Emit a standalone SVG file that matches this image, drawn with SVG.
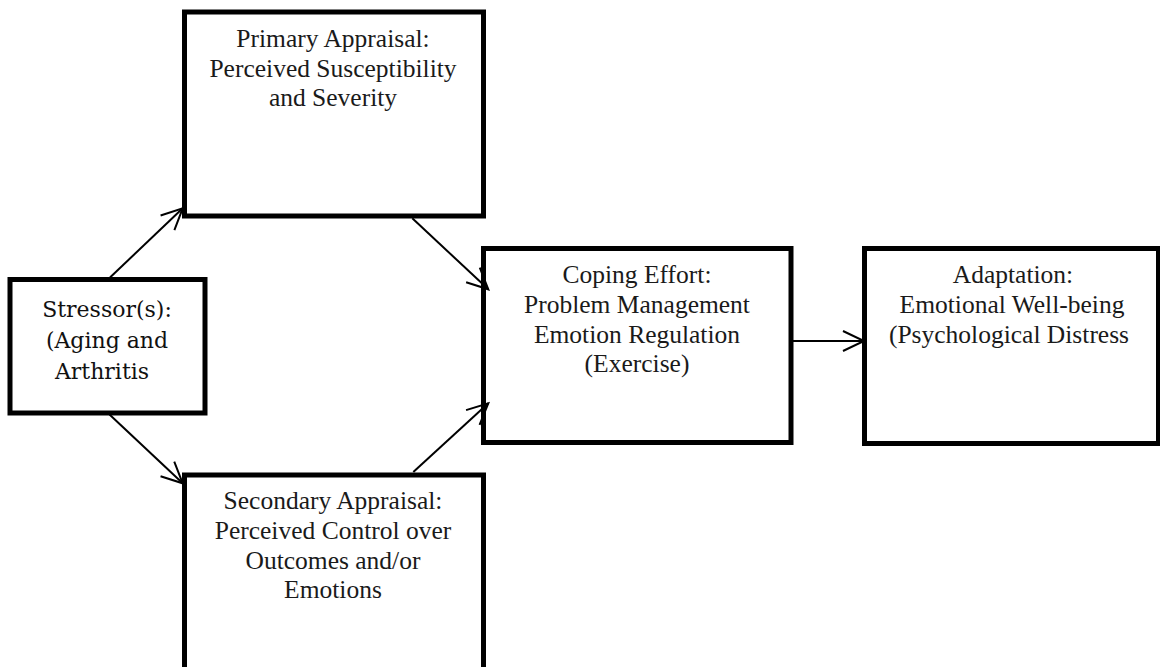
<svg xmlns="http://www.w3.org/2000/svg" width="1160" height="667" viewBox="0 0 1160 667">
  <style>
    .box { fill: #ffffff; stroke: #000000; stroke-width: 5; }
    .t { font-family: "Liberation Serif", "Times New Roman", serif; font-size: 25.5px; fill: #1a1a1a; text-anchor: middle; }
    .s { font-family: "DejaVu Serif", "Liberation Serif", serif; font-size: 22px; fill: #111111; text-anchor: middle; }
    .c { stroke: #000000; stroke-width: 2; fill: none; }
  </style>
  <defs>
    <marker id="arr" markerUnits="userSpaceOnUse" markerWidth="24" markerHeight="22" refX="22" refY="11" orient="auto" overflow="visible">
      <path d="M1,1 L22,11 L1,21" fill="none" stroke="#000000" stroke-width="2"/>
    </marker>
  </defs>
  <rect width="1160" height="667" fill="#ffffff"/>

  <g id="stressor">
    <rect class="box" x="10" y="279.5" width="195" height="133.5"/>
    <text class="s" x="107" y="317">Stressor(s):</text>
    <text class="s" x="107" y="348">(Aging and</text>
    <text class="s" x="102" y="379">Arthritis</text>
  </g>

  <g id="primary">
    <rect class="box" x="184.5" y="12" width="299" height="204"/>
    <text class="t" x="333" y="47">Primary Appraisal:</text>
    <text class="t" x="333" y="77">Perceived Susceptibility</text>
    <text class="t" x="333" y="106">and Severity</text>
  </g>

  <g id="secondary">
    <rect class="box" x="184.5" y="475" width="299" height="215"/>
    <text class="t" x="333" y="509">Secondary Appraisal:</text>
    <text class="t" x="333" y="539">Perceived Control over</text>
    <text class="t" x="333" y="569">Outcomes and/or</text>
    <text class="t" x="333" y="598">Emotions</text>
  </g>

  <g id="coping">
    <rect class="box" x="483.5" y="248.5" width="307.5" height="194"/>
    <text class="t" x="637" y="283">Coping Effort:</text>
    <text class="t" x="637" y="313">Problem Management</text>
    <text class="t" x="637" y="343">Emotion Regulation</text>
    <text class="t" x="637" y="372">(Exercise)</text>
  </g>

  <g id="adaptation">
    <rect class="box" x="864.5" y="248.5" width="294" height="195"/>
    <text class="t" x="1013" y="283">Adaptation:</text>
    <text class="t" x="1012" y="313">Emotional Well-being</text>
    <text class="t" x="1009" y="343">(Psychological Distress</text>
  </g>

  <g id="connectors">
    <line class="c" x1="110" y1="277.5" x2="182.7" y2="208.3" marker-end="url(#arr)"/>
    <line class="c" x1="109.5" y1="414.5" x2="182.7" y2="483.3" marker-end="url(#arr)"/>
    <line class="c" x1="412.3" y1="218.3" x2="488.3" y2="289.3" marker-end="url(#arr)"/>
    <line class="c" x1="413.3" y1="472" x2="488.3" y2="403.3" marker-end="url(#arr)"/>
    <line class="c" x1="791" y1="341" x2="864" y2="341" marker-end="url(#arr)"/>
  </g>
</svg>
